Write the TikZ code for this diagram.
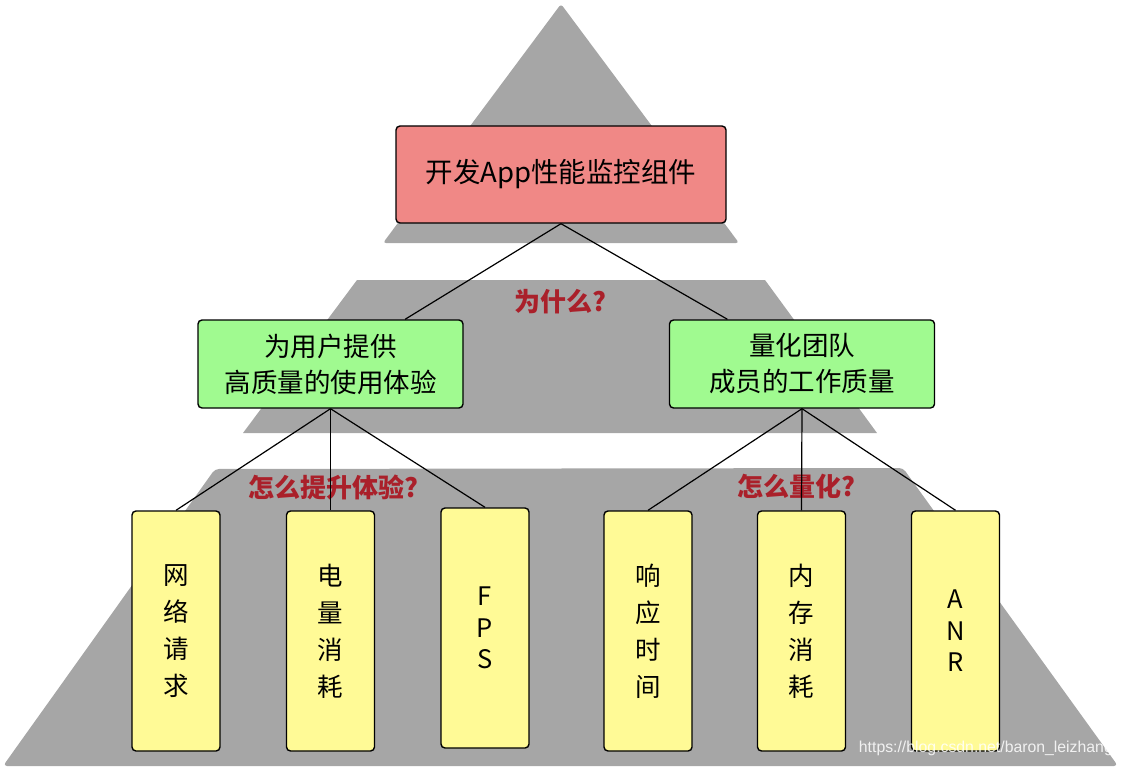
\documentclass[tikz,border=0pt]{standalone}
\usepackage{fontspec}
\setmainfont{Noto Sans CJK SC}
\newfontfamily\wmfont{Liberation Sans}
\usetikzlibrary{calc}
\definecolor{pyr}{RGB}{166,166,166}
\definecolor{redbox}{RGB}{240,136,134}
\definecolor{greenbox}{RGB}{160,250,144}
\definecolor{yellowbox}{RGB}{255,250,150}
\definecolor{qred}{RGB}{170,32,42}
\tikzset{
  box/.style={draw=black, line width=1.4pt, rounded corners=4pt, inner sep=0pt, align=center},
  topbox/.style={box, fill=redbox, minimum width=330pt, minimum height=97pt, font=\fontsize{27.5}{30}\selectfont},
  midbox/.style={box, fill=greenbox, minimum width=265pt, minimum height=88pt, font=\fontsize{26.5}{36}\selectfont},
  leafbox/.style={box, fill=yellowbox, minimum width=88pt, minimum height=240pt, font=\fontsize{25.5}{37}\selectfont},
  qlabel/.style={text=qred, font=\bfseries\fontsize{26}{28}\selectfont, inner sep=0pt},
  conn/.style={draw=black, line width=1.2pt},
}
\begin{document}
\begin{tikzpicture}[x=1pt,y=-1pt]
\useasboundingbox (0,0) rectangle (1123,767);
% pyramid bands
\fill[pyr, rounded corners=3pt] (561,4) -- (739,243) -- (383,243) -- cycle;
\fill[pyr] (357,280) -- (765,280) -- (877,433) -- (243,433) -- cycle;
\fill[pyr, rounded corners=4pt] (215,469) -- (903,468) -- (1118,766) -- (3,766) -- cycle;
% question labels
\node[qlabel] (q1) at (560,302) {为什么?};
\node[qlabel] (q2) at (333,487) {怎么提升体验?};
\node[qlabel] (q3) at (796,487) {怎么量化?};
% nodes
\node[topbox] (top) at (561,174.5) {开发App性能监控组件};
\node[midbox] (gl) at (330.5,364) {为用户提供\\高质量的使用体验};
\node[midbox] (gr) at (802,364) {量化团队\\成员的工作质量};
\node[leafbox] (y1) at (176,631) {网\\络\\请\\求};
\node[leafbox] (y2) at (330.5,631) {电\\量\\消\\耗};
\node[leafbox, font=\fontsize{25.5}{31.5}\selectfont] (y3) at (485,628) {F\\P\\S};
\node[leafbox] (y4) at (648,631) {响\\应\\时\\间};
\node[leafbox] (y5) at (801.5,631) {内\\存\\消\\耗};
\node[leafbox, font=\fontsize{25.5}{31.5}\selectfont] (y6) at (955.5,631) {A\\N\\R};
% connectors
\draw[conn] (top.south) -- ($(gl.north west)!0.78!(gl.north east)$);
\draw[conn] (top.south) -- ($(gr.north west)!0.22!(gr.north east)$);
\draw[conn] (gl.south) -- (y1.north);
\draw[conn] (gl.south) -- (y2.north);
\draw[conn] (gl.south) -- (y3.north);
\draw[conn] (gr.south) -- (y4.north);
\draw[conn] (gr.south) -- (y5.north);
\draw[conn] (gr.south) -- (y6.north);
% watermark
\node[text=white, opacity=0.85, anchor=east, inner sep=0pt, font=\wmfont\fontsize{15.8}{16}\selectfont] (wm) at (1113,748) {https://blog.csdn.net/baron\_leizhang};
\end{tikzpicture}
\end{document}
